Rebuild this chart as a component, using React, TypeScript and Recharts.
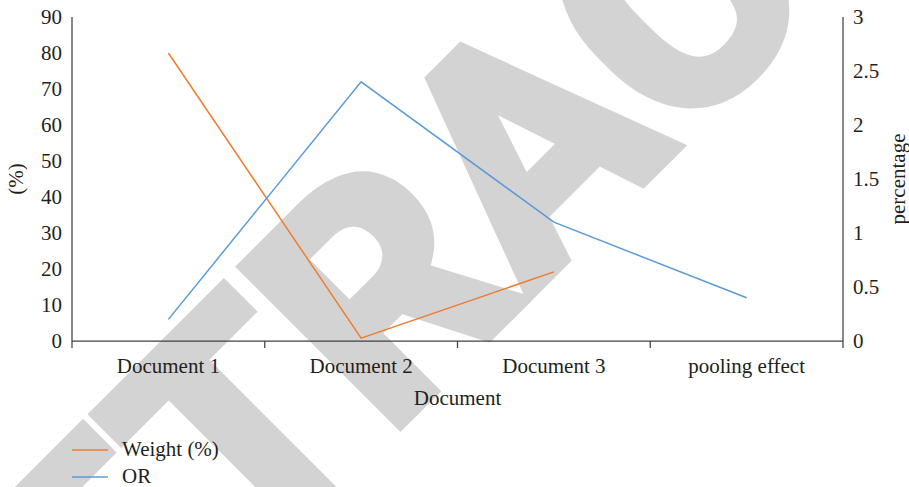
import React from 'react';
import { LineChart, Line, XAxis, YAxis, Legend } from 'recharts';

const categories = ['Document 1', 'Document 2', 'Document 3', 'pooling effect'];
const weightValues = [80, 0.8, 19.2, null];
const orValues = [0.2, 2.4, 1.1, 0.4];
const leftTicks = [0, 10, 20, 30, 40, 50, 60, 70, 80, 90];
const rightTicks = [0, 0.5, 1, 1.5, 2, 2.5, 3];

const data = categories.map((name, i) => ({
  name,
  weight: weightValues[i],
  or: orValues[i],
}));

const W = 909;
const H = 487;
const LEFT_W = 72;
const RIGHT_W = 66;
const HALF_BAND = (W - LEFT_W - RIGHT_W) / categories.length / 2;

const FONT = '"Liberation Serif", "Times New Roman", serif';
const TEXT = '#231F20';
const AXIS = '#404040';
const ORANGE = '#ED7D31';
const BLUE = '#5B9BD5';
const STAMP = '#D3D3D3';

const series = [
  { key: 'weight', name: 'Weight (%)', color: ORANGE },
  { key: 'or', name: 'OR', color: BLUE },
];

// category labels sit in the middle of each band, tick marks on the band edges
const CategoryTick = (props: any) => {
  const { x, y, payload, index } = props;
  const last = index === categories.length - 1;
  return (
    <g>
      <line x1={x - HALF_BAND} y1={y} x2={x - HALF_BAND} y2={y + 7} stroke={AXIS} strokeWidth={1.25} />
      {last && (
        <line x1={x + HALF_BAND} y1={y} x2={x + HALF_BAND} y2={y + 7} stroke={AXIS} strokeWidth={1.25} />
      )}
      <text x={x} y={y + 32} textAnchor="middle" fill={TEXT} fontSize={21} fontFamily={FONT}>
        {payload.value}
      </text>
    </g>
  );
};

const LegendBox = () => (
  <div style={{ height: 52, position: 'relative', fontFamily: FONT, fontSize: 21, color: TEXT }}>
    {series.map((s, i) => (
      <div
        key={s.key}
        style={{ position: 'absolute', left: 72, top: 4 + i * 27, height: 21, display: 'flex', alignItems: 'center', whiteSpace: 'nowrap' }}
      >
        <svg width={36} height={4} style={{ display: 'block' }}>
          <line x1={0} y1={2} x2={36} y2={2} stroke={s.color} strokeWidth={1.5} />
        </svg>
        <span style={{ marginLeft: 14, lineHeight: '21px' }}>{s.name}</span>
      </div>
    ))}
  </div>
);

const VerticalTitle = ({ viewBox, value, dx }: any) => {
  const cx = viewBox.x + dx;
  const cy = viewBox.y + viewBox.height / 2;
  return (
    <text
      x={cx}
      y={cy}
      transform={`rotate(-90 ${cx} ${cy})`}
      textAnchor="middle"
      fill={TEXT}
      fontSize={21}
      fontFamily={FONT}
    >
      {value}
    </text>
  );
};

export default function App() {
  return (
    <div style={{ position: 'absolute', left: 0, top: 0, width: W, height: H, overflow: 'hidden', background: '#fff' }}>
      <svg width={W} height={H} style={{ position: 'absolute', left: 0, top: 0 }}>
        <text
          x={-22}
          y={846}
          transform="rotate(-45 -22 846)"
          fontFamily="Roboto, 'Liberation Sans', sans-serif"
          fontWeight={700}
          fontSize={312}
          letterSpacing={2}
          fill={STAMP}
          stroke={STAMP}
          strokeWidth={12}
          strokeLinejoin="miter"
        >
          RETRACTED
        </text>
      </svg>
      <div style={{ position: 'absolute', left: 0, top: 0 }}>
        <LineChart width={W} height={H} data={data} margin={{ top: 17, right: 0, left: 0, bottom: 0 }}>
          <XAxis
            dataKey="name"
            scale="band"
            height={94}
            axisLine={{ stroke: AXIS, strokeWidth: 1.25 }}
            tickLine={false}
            tickSize={0}
            tickMargin={0}
            interval={0}
            tick={<CategoryTick />}
            label={{ value: 'Document', position: 'insideTop', offset: 49, fill: TEXT, fontSize: 21, fontFamily: FONT }}
          />
          <YAxis
            yAxisId="left"
            width={LEFT_W}
            domain={[0, 90]}
            ticks={leftTicks}
            interval={0}
            axisLine={{ stroke: AXIS, strokeWidth: 1.25 }}
            tickLine={false}
            tickSize={0}
            tickMargin={10}
            tick={{ fill: TEXT, fontSize: 21, fontFamily: FONT }}
            label={<VerticalTitle value="(%)" dx={23} />}
          />
          <YAxis
            yAxisId="right"
            orientation="right"
            width={RIGHT_W}
            domain={[0, 3]}
            ticks={rightTicks}
            interval={0}
            axisLine={{ stroke: AXIS, strokeWidth: 1.25 }}
            tickLine={false}
            tickSize={0}
            tickMargin={10}
            tick={{ fill: TEXT, fontSize: 21, fontFamily: FONT, textAnchor: 'start' }}
            label={<VerticalTitle value="percentage" dx={RIGHT_W - 4} />}
          />
          <Legend layout="horizontal" verticalAlign="bottom" align="left" content={<LegendBox />} />
          <Line
            yAxisId="left"
            type="linear"
            dataKey="weight"
            name="Weight (%)"
            stroke={ORANGE}
            strokeWidth={1.5}
            dot={false}
            isAnimationActive={false}
          />
          <Line
            yAxisId="right"
            type="linear"
            dataKey="or"
            name="OR"
            stroke={BLUE}
            strokeWidth={1.5}
            dot={false}
            isAnimationActive={false}
          />
        </LineChart>
      </div>
    </div>
  );
}
